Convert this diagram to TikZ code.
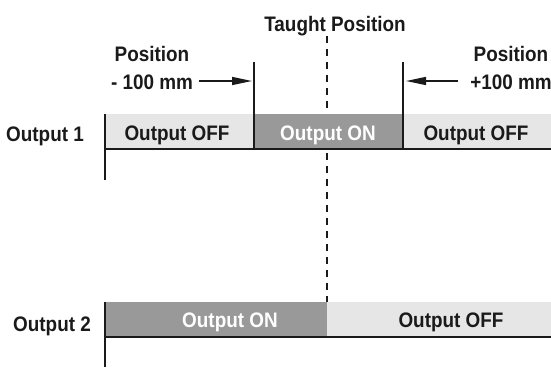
\documentclass[tikz,border=0pt]{standalone}
\usepackage{fontspec}
\setmainfont[FakeStretch=0.9]{Liberation Sans}
\usetikzlibrary{arrows.meta}
\definecolor{offgray}{HTML}{E6E6E6}
\definecolor{ongray}{HTML}{999999}
\definecolor{ink}{HTML}{1A1A1A}
\begin{document}
\begin{tikzpicture}[x=1pt,y=-1pt,
  lbl/.style={font=\fontsize{21}{28}\selectfont\bfseries, text=ink, inner sep=0pt, anchor=base},
  onlbl/.style={lbl, text=white},
  axis/.style={line width=1.6pt, draw=ink},
  taught/.style={line width=1.5pt, draw=ink, dash pattern=on 7pt off 6pt},
  pointer/.style={line width=1.5pt, draw=ink, -{Triangle[length=20pt,width=8pt]}}]
\useasboundingbox (0,0) rectangle (551,367);
\begin{scope}
\clip (0,0) rectangle (551,367);
% taught position line
\coordinate (dtop) at (327,36);
\coordinate (dbot) at (327,302);
\draw[taught] (dtop) -- (dbot);
% Output 1 band
\fill[offgray] (105,114) rectangle (254,149);
\fill[ongray] (254,114) rectangle (403,149);
\fill[offgray] (403,114) rectangle (551,149);
% Output 2 band
\fill[ongray] (105,302) rectangle (327,337);
\fill[offgray] (327,302) rectangle (551,337);
% axes
\coordinate (a1t) at (105,114);
\coordinate (a1b) at (105,180);
\coordinate (h1r) at (551,149);
\coordinate (h1l) at (105,149);
\draw[axis] (a1t) -- (a1b);
\draw[axis] (h1l) -- (h1r);
\coordinate (a2t) at (105,302);
\coordinate (a2b) at (105,367);
\coordinate (h2r) at (551,337);
\coordinate (h2l) at (105,337);
\draw[axis] (a2t) -- (a2b);
\draw[axis] (h2l) -- (h2r);
% switching positions
\coordinate (m1t) at (254,62);
\coordinate (m1b) at (254,149);
\coordinate (p1t) at (403,62);
\coordinate (p1b) at (403,149);
\draw[axis] (m1t) -- (m1b);
\draw[axis] (p1t) -- (p1b);
% arrows
\coordinate (la0) at (199,81);
\coordinate (la1) at (252,81);
\coordinate (ra0) at (458,81);
\coordinate (ra1) at (406,81);
\draw[pointer] (la0) -- (la1);
\draw[pointer] (ra0) -- (ra1);
% labels
\node[lbl] (tp) at (335,31) {Taught Position};
\node[lbl, align=center] (lpos) at (152,89) {Position\\- 100 mm};
\node[lbl, align=center] (rpos) at (511,89) {Position\\+100 mm};
\node[lbl] (o1) at (45,141) {Output 1};
\node[lbl] (o2) at (52,331) {Output 2};
\node[lbl] (b1a) at (177,140) {Output OFF};
\node[onlbl] (b1b) at (328,140) {Output ON};
\node[lbl] (b1c) at (476,140) {Output OFF};
\node[onlbl] (b2a) at (230,327) {Output ON};
\node[lbl] (b2b) at (451,327) {Output OFF};
\end{scope}
\end{tikzpicture}
\end{document}
